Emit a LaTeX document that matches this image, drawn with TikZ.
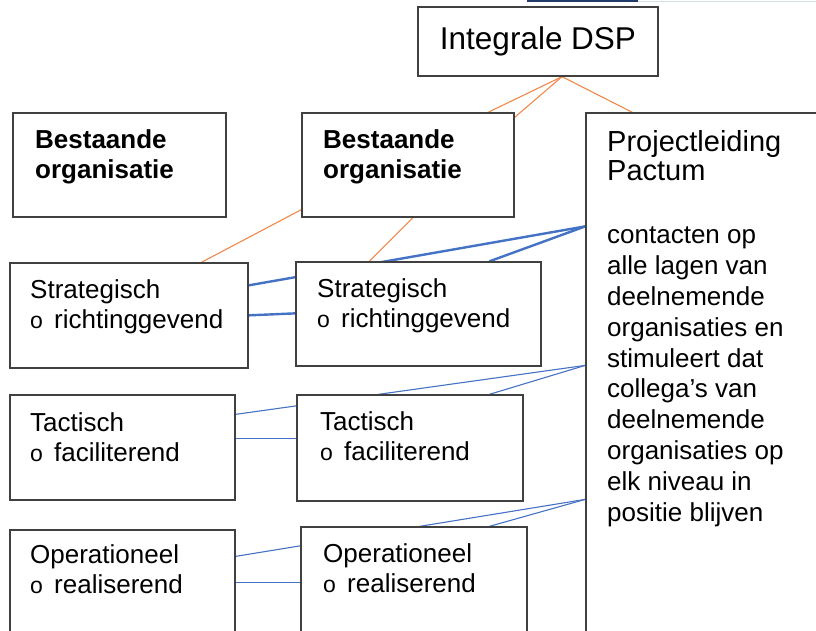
\documentclass[tikz,border=0pt]{standalone}
\usepackage{fontspec}
\setmainfont{Liberation Sans}
\usetikzlibrary{backgrounds}
\definecolor{boxgray}{HTML}{404040}
\definecolor{linkorange}{HTML}{F0884A}
\definecolor{linkblue}{HTML}{4472C4}
\definecolor{topnavy}{HTML}{1F3A6B}
\definecolor{toplight}{HTML}{D6DCE8}
\newcommand\mkbox[5]{\node[box, minimum width={(#4-#2)*1pt}, minimum height={(#5-#3)*1pt}] (#1) at ({(#2+#4)/2},{(#3+#5)/2}) {};}
\newcommand\bul{\makebox[24pt][l]{\fontsize{23}{30}\selectfont o}}
\begin{document}
\begin{tikzpicture}[x=1pt,y=-1pt,
  box/.style={draw=boxgray, line width=1.3pt, fill=white, inner sep=0pt},
  txt/.style={anchor=base west, inner sep=0pt, align=left, font=\fontsize{26}{30}\selectfont},
  ptitle/.style={anchor=base west, inner sep=0pt, align=left, font=\fontsize{29}{29}\selectfont},
  pbody/.style={anchor=base west, inner sep=0pt, align=left, font=\fontsize{26}{30.8}\selectfont},
  orl/.style={draw=linkorange, line width=1.1pt},
  bthick/.style={draw=linkblue, line width=2.4pt},
  bthin/.style={draw=linkblue, line width=1.1pt}]
\useasboundingbox (0,0) rectangle (816,630);
\fill[topnavy] (527,0) rectangle (638,2);
\draw[toplight, line width=1pt] (638,1) -- (816,1);

\node[box, minimum width=240pt, minimum height=69pt, font=\fontsize{31.5}{34}\selectfont] (dsp) at (538,41.5) {Integrale DSP};
\mkbox{bleft}{13}{113}{226}{217}
\mkbox{bmid}{302}{113}{514}{217}
\mkbox{proj}{586}{113}{830}{650}
\mkbox{sleft}{10}{263}{248}{368}
\mkbox{smid}{296}{262}{541}{366}
\mkbox{tleft}{10}{395}{235}{500}
\mkbox{tmid}{297}{395}{523}{501}
\mkbox{oleft}{10}{530}{235}{650}
\mkbox{omid}{301}{527}{527}{650}

\node[txt, font=\fontsize{26}{30}\selectfont\bfseries] (tbleft) at (35,178) {Bestaande\\organisatie};
\node[txt, font=\fontsize{26}{30}\selectfont\bfseries] (tbmid) at (323,178) {Bestaande\\organisatie};
\node[txt] (tsleft) at (30,328) {Strategisch\\\bul richtinggevend};
\node[txt] (tsmid) at (317,327) {Strategisch\\\bul richtinggevend};
\node[txt] (ttleft) at (30,461) {Tactisch\\\bul faciliterend};
\node[txt] (ttmid) at (320,460) {Tactisch\\\bul faciliterend};
\node[txt] (toleft) at (30,593) {Operationeel\\\bul realiserend};
\node[txt] (tomid) at (323,592) {Operationeel\\\bul realiserend};
\node[ptitle] (tptitle) at (607,180) {Projectleiding\\Pactum};
\node[pbody] (tpbody) at (607,521) {contacten op\\alle lagen van\\deelnemende\\organisaties en\\stimuleert dat\\collega’s van\\deelnemende\\organisaties op\\elk niveau in\\positie blijven};

\begin{scope}[on background layer]
  \draw[orl] ([xshift=24pt]dsp.south) -- ([xshift=80pt]bmid.north);
  \draw[orl] ([xshift=24pt]dsp.south) -- ([yshift=-5pt]bmid.north east);
  \draw[orl] ([xshift=24pt]dsp.south) -- ([xshift=47pt]proj.north west);
  \draw[orl] ([yshift=8pt]bmid.south west) -- ([xshift=192pt]sleft.north west);
  \draw[orl] ([xshift=5pt]bmid.south) -- ([xshift=74pt]smid.north west);

  \draw[bthick] ([yshift=-114pt]proj.north west) -- ([yshift=-23pt]sleft.north east);
  \draw[bthick] ([yshift=-114pt]proj.north west) -- ([xshift=194pt]smid.north west);
  \draw[bthick] ([yshift=-53pt]sleft.north east) -- ([yshift=-52pt]smid.north west);

  \draw[bthin] ([yshift=-253pt]proj.north west) -- ([yshift=-20pt]tleft.north east);
  \draw[bthin] ([yshift=-253pt]proj.north west) -- ([xshift=193pt]tmid.north west);
  \draw[bthin] ([yshift=-44pt]tleft.north east) -- ([yshift=-44pt]tmid.north west);

  \draw[bthin] ([yshift=-387pt]proj.north west) -- ([yshift=-27pt]oleft.north east);
  \draw[bthin] ([yshift=-387pt]proj.north west) -- ([xshift=189pt]omid.north west);
  \draw[bthin] ([yshift=-53pt]oleft.north east) -- ([yshift=-56pt]omid.north west);
\end{scope}
\end{tikzpicture}
\end{document}
